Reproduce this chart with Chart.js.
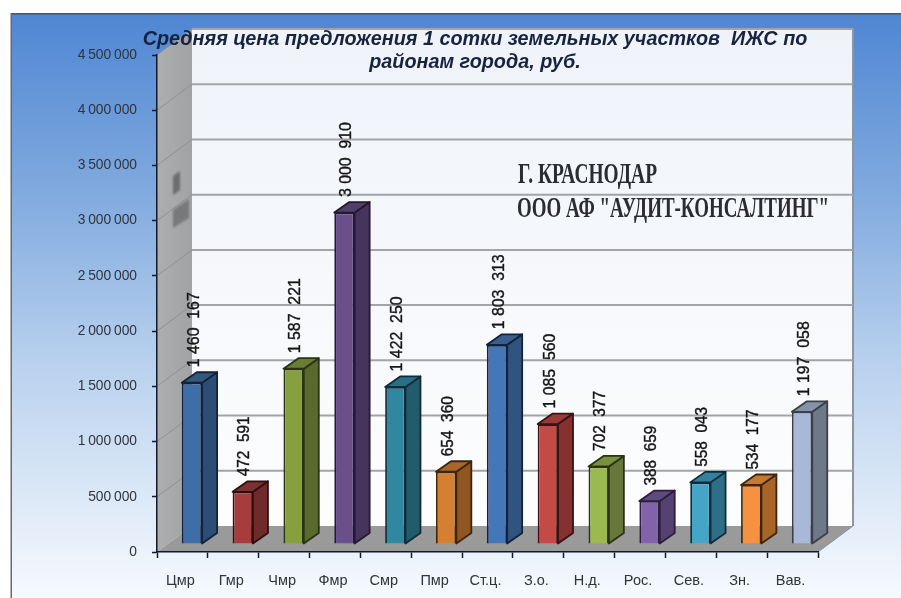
<!DOCTYPE html>
<html>
<head>
<meta charset="utf-8">
<title>Средняя цена предложения</title>
<script src="https://cdn.jsdelivr.net/npm/chart.js@4"></script>
<style>
  html, body { margin: 0; padding: 0; background: #fff; }
  canvas { display: block; }
</style>
</head>
<body>
<canvas id="bar-chart" width="901" height="598"></canvas>
<script>
const categories = ['Цмр', 'Гмр', 'Чмр', 'Фмр', 'Смр', 'Пмр', 'Ст.ц.', 'З.о.', 'Н.д.', 'Рос.', 'Сев.', 'Зн.', 'Вав.'];
const prices = [1460167, 472591, 1587221, 3000910, 1422250, 654360, 1803313, 1085560, 702377, 388659, 558043, 534177, 1197058];
const frontColors = ['#3f6ea6', '#a53d3c', '#87a03f', '#6b4e8c', '#31879f', '#d47f31', '#4477b8', '#c44a48', '#9bb951', '#8263a9', '#45a5c6', '#f6923f', '#a9b8d8'];
const sideColors = ['#2c4d76', '#6f2a2a', '#586a2c', '#46345d', '#215b6c', '#8f5621', '#30537f', '#843130', '#67793a', '#564272', '#2d6f86', '#a96428', '#6d7888'];
const topColors = ['#33597f', '#7f3131', '#6a7d33', '#514069', '#2a6f84', '#a86628', '#37608f', '#9a3a38', '#7a913f', '#5f4a80', '#33829d', '#c67a30', '#8592a8'];
const edgeColors = ['#12233a', '#2e0f0f', '#2a3314', '#221a30', '#0f2d38', '#3f250c', '#12233a', '#3a1212', '#2a3314', '#2a1f3c', '#0f2d38', '#3f250c', '#3a4048'];
const titleLines = ['Средняя цена предложения 1 сотки земельных участков  ИЖС по', 'районам города, руб.'];
const noteLines = ['Г. КРАСНОДАР', 'ООО АФ "АУДИТ-КОНСАЛТИНГ"'];

// how far the back wall sits behind the axes, and the bars inside that depth
const wallDx = 35, wallDy = -26;
const barDx = 9.5, barDy = -8;
const sideDx = 15, sideDy = -10.5;

function spaced(n, sep) {
  return String(n).replace(/\B(?=(\d{3})+$)/g, sep);
}

function poly(ctx, pts, fill, stroke, lw) {
  ctx.beginPath();
  pts.forEach((p, i) => i ? ctx.lineTo(p[0], p[1]) : ctx.moveTo(p[0], p[1]));
  ctx.closePath();
  if (fill) { ctx.fillStyle = fill; ctx.fill(); }
  if (stroke) { ctx.strokeStyle = stroke; ctx.lineWidth = lw; ctx.stroke(); }
}

const scenePlugin = {
  id: 'scene',
  beforeDraw(chart) {
    const { ctx, chartArea: a, scales: { y } } = chart;
    ctx.save();
    ctx.fillStyle = '#fff';
    ctx.fillRect(0, 0, chart.width, chart.height);

    // panel behind everything
    const bg = ctx.createLinearGradient(0, 13, 0, 598);
    bg.addColorStop(0, '#4f86d3');
    bg.addColorStop(0.3, '#7fa9de');
    bg.addColorStop(0.6, '#b9d1ee');
    bg.addColorStop(1, '#f6fafe');
    ctx.fillStyle = bg;
    ctx.fillRect(11, 13, chart.width - 11, chart.height - 13);
    ctx.fillStyle = '#4a5566';
    ctx.fillRect(11, 13, chart.width - 11, 1.5);
    ctx.fillStyle = '#6a6a6a';
    ctx.fillRect(10.5, 13, 1.5, chart.height - 13);

    const backTop = a.top + wallDy, backBottom = a.bottom + wallDy;
    const backLeft = a.left + wallDx, backRight = a.right + wallDx;

    // back wall
    const wall = ctx.createLinearGradient(0, backTop, 0, backBottom);
    wall.addColorStop(0, '#eff3f9');
    wall.addColorStop(1, '#fdfdfe');
    ctx.fillStyle = wall;
    ctx.fillRect(backLeft, backTop, backRight - backLeft, backBottom - backTop);
    ctx.strokeStyle = '#8f959c';
    ctx.lineWidth = 2;
    ctx.beginPath();
    ctx.moveTo(backRight, backTop);
    ctx.lineTo(backRight, backBottom);
    ctx.stroke();

    // left wall
    const side = ctx.createLinearGradient(a.left, 0, backLeft, 0);
    side.addColorStop(0, '#adaeaf');
    side.addColorStop(1, '#a0a2a4');
    poly(ctx, [[a.left, a.top], [backLeft, backTop], [backLeft, backBottom], [a.left, a.bottom]], side);

    // floor
    poly(ctx, [[a.left, a.bottom], [a.right, a.bottom], [backRight, backBottom], [backLeft, backBottom]], '#9a9a9a');

    // gridlines on both walls, taken from the value axis
    y.ticks.forEach(t => {
      if (t.value === 0) return;
      const py = y.getPixelForValue(t.value);
      ctx.strokeStyle = '#a2a4a6';
      ctx.lineWidth = 2;
      ctx.beginPath();
      ctx.moveTo(backLeft, py + wallDy);
      ctx.lineTo(backRight, py + wallDy);
      ctx.stroke();
      ctx.strokeStyle = '#8f9193';
      ctx.lineWidth = 1;
      ctx.beginPath();
      ctx.moveTo(a.left, py);
      ctx.lineTo(backLeft, py + wallDy);
      ctx.stroke();
    });
    ctx.strokeStyle = '#8f9193';
    ctx.lineWidth = 1;
    ctx.beginPath();
    ctx.moveTo(a.right, a.bottom);
    ctx.lineTo(backRight, backBottom);
    ctx.stroke();

    // the unreadable smudges on the left wall
    ctx.filter = 'blur(1px)';
    poly(ctx, [[173, 176], [180, 171], [180, 190], [173, 195]], '#6b6d6f');
    poly(ctx, [[173, 210], [189, 199], [189, 218], [173, 228]], '#77797b');
    ctx.filter = 'none';
    ctx.restore();

    // note on the back wall
    ctx.save();
    ctx.fillStyle = '#2a2c30';
    ctx.font = 'bold 29px "Liberation Serif"';
    ctx.textBaseline = 'alphabetic';
    ctx.fillText(noteLines[0], 518, 183, 139);
    ctx.fillText(noteLines[1], 517, 217, 312);
    ctx.restore();
  },
  beforeDatasetsDraw(chart) {
    chart.ctx.save();
    chart.ctx.translate(barDx, barDy);
  },
  afterDatasetsDraw(chart) {
    const { ctx } = chart;
    const meta = chart.getDatasetMeta(0);
    meta.data.forEach((bar, i) => {
      const l = bar.x - bar.width / 2, r = bar.x + bar.width / 2;
      const t = bar.y, b = bar.base;
      ctx.lineJoin = 'round';
      poly(ctx, [[r, t], [r + sideDx, t + sideDy], [r + sideDx, b + sideDy], [r, b]], sideColors[i], edgeColors[i], 1.8);
      poly(ctx, [[l, t], [l + sideDx, t + sideDy], [r + sideDx, t + sideDy], [r, t]], topColors[i], edgeColors[i], 1.8);
    });
    ctx.restore();

    // value labels standing on the bars
    ctx.save();
    ctx.fillStyle = '#151515';
    ctx.strokeStyle = '#151515';
    ctx.lineWidth = 0.4;
    ctx.font = '17px "Liberation Sans"';
    ctx.textAlign = 'left';
    ctx.textBaseline = 'middle';
    meta.data.forEach((bar, i) => {
      ctx.save();
      ctx.translate(bar.x + barDx + 2, bar.y + barDy + sideDy - 5);
      ctx.rotate(-Math.PI / 2);
      const text = spaced(prices[i], ' ').replace(/ (\d{3})$/, '  $1');
      const w = prices[i] >= 1000000 ? 75 : 60;
      ctx.fillText(text, 0, 0, w);
      ctx.strokeText(text, 0, 0, w);
      ctx.restore();
    });
    ctx.restore();
  },
  afterDraw(chart) {
    const { ctx } = chart;
    ctx.save();
    ctx.fillStyle = '#17233f';
    ctx.font = 'italic bold 19.8px "Liberation Sans"';
    ctx.textAlign = 'center';
    ctx.fillText(titleLines[0], 475, 45);
    ctx.fillText(titleLines[1], 475, 68);
    ctx.restore();
  }
};

new Chart(document.getElementById('bar-chart'), {
  type: 'bar',
  data: {
    labels: categories,
    datasets: [{
      data: prices,
      backgroundColor: frontColors,
      borderColor: edgeColors,
      borderWidth: 1.8,
      barPercentage: 1,
      categoryPercentage: 0.4,
      clip: false
    }]
  },
  options: {
    responsive: false,
    animation: false,
    devicePixelRatio: 1,
    layout: { padding: { top: 55, right: 83, left: 0, bottom: 0 } },
    plugins: { legend: { display: false }, title: { display: false }, tooltip: { enabled: false } },
    scales: {
      x: {
        afterFit: s => { s.height = 46; },
        grid: { drawOnChartArea: false, tickLength: 6, tickColor: '#10182a', tickWidth: 1.5 },
        border: { color: '#10182a', width: 1.5 },
        ticks: { color: '#2f343c', padding: 14, labelOffset: -2, maxRotation: 0, autoSkip: false, font: { family: 'Liberation Sans', size: 14.5 } }
      },
      y: {
        min: 0,
        max: 4500000,
        afterFit: s => { s.width = 157; },
        grid: { drawOnChartArea: false, tickLength: 5, tickColor: '#10182a', tickWidth: 1.5 },
        border: { color: '#10182a', width: 1.5 },
        ticks: {
          stepSize: 500000,
          padding: 15,
          color: '#2f343c',
          font: { family: 'Liberation Sans', size: 13.8 },
          callback: v => spaced(v, '\u2009')
        }
      }
    }
  },
  plugins: [scenePlugin]
});
</script>
</body>
</html>
